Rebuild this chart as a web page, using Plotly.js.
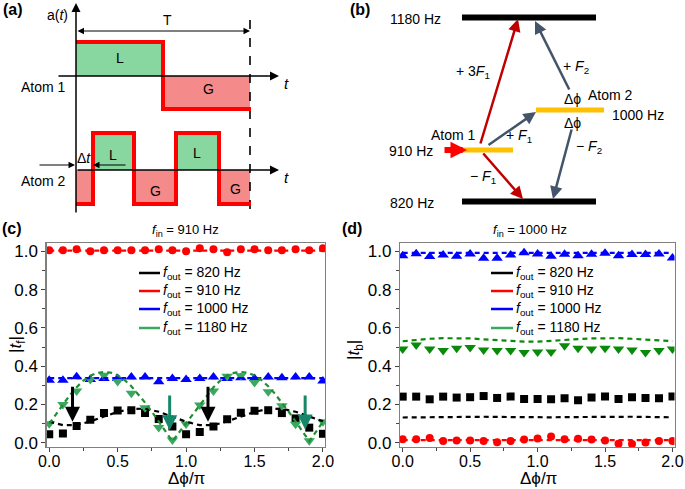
<!DOCTYPE html>
<html><head><meta charset="utf-8">
<script src="https://cdn.plot.ly/plotly-3.0.1.min.js"></script>
<style>html,body{margin:0;padding:0;background:#fff}#g{width:685px;height:489px}</style>
</head><body><div id="g"></div>
<script>
// ---------- data ----------
const phi = [0,0.1,0.2,0.3,0.4,0.5,0.6,0.7,0.8,0.9,1.0,1.1,1.2,1.3,1.4,1.5,1.6,1.7,1.8,1.9,2.0];
const phiFine = [0,0.05,0.1,0.15,0.2,0.25,0.3,0.35,0.4,0.45,0.5,0.55,0.6,0.65,0.7,0.75,0.8,0.85,0.9,0.95,1.0,1.05,1.1,1.15,1.2,1.25,1.3,1.35,1.4,1.45,1.5,1.55,1.6,1.65,1.7,1.75,1.8,1.85,1.9,1.95,2.0];

// panel (c): f_in = 910 Hz
const c820 = [0.045,0.049,0.087,0.120,0.155,0.169,0.170,0.155,0.124,0.085,0.045,0.056,0.085,0.123,0.157,0.167,0.170,0.155,0.127,0.079,0.047];
const c910 = [1.005,1.005,1.010,1.000,1.005,1.005,1.005,1.005,1.010,1.005,1.000,1.015,1.010,0.995,1.010,1.010,1.005,1.005,1.010,1.005,1.015];
const c1000 = [0.327,0.327,0.345,0.330,0.336,0.336,0.344,0.344,0.318,0.336,0.330,0.336,0.344,0.336,0.339,0.336,0.344,0.339,0.344,0.344,0.322];
const c1180 = [0.100,0.200,0.271,0.330,0.353,0.320,0.258,0.183,0.080,0.014,0.098,0.197,0.270,0.348,0.350,0.315,0.266,0.193,0.097,0.010,0.110];
const c820th = [0.110,0.092,0.092,0.112,0.137,0.161,0.177,0.178,0.162,0.137,0.110,0.092,0.092,0.112,0.137,0.161,0.177,0.178,0.162,0.137,0.112];
const c910th = [1.003,1.003,1.003,1.003,1.003,1.003,1.003,1.003,1.003,1.003,1.003,1.003,1.003,1.003,1.003,1.003,1.003,1.003,1.003,1.003,1.003];
const c1000th = [0.338,0.338,0.338,0.338,0.338,0.338,0.338,0.338,0.338,0.338,0.338,0.338,0.338,0.338,0.338,0.338,0.338,0.338,0.338,0.338,0.338];
const c1180th = [0.100,0.150,0.200,0.248,0.290,0.325,0.350,0.365,0.370,0.366,0.352,0.328,0.295,0.255,0.210,0.162,0.112,0.060,0.008,0.055,0.103,0.152,0.200,0.248,0.290,0.325,0.350,0.365,0.370,0.366,0.352,0.328,0.295,0.255,0.210,0.162,0.112,0.060,0.008,0.058,0.110];
// arrows in (c)
const arrX = [0.17, 0.88, 1.16, 1.87];
const arrTop = [0.300, 0.255, 0.300, 0.255];
const arrTip = [0.110, 0.066, 0.110, 0.070];
const arrCol = ['#000000', '#17876a', '#000000', '#17876a'];

// panel (d): f_in = 1000 Hz
const d820 = [0.241,0.241,0.227,0.241,0.236,0.238,0.244,0.234,0.241,0.229,0.229,0.227,0.232,0.222,0.236,0.241,0.229,0.238,0.234,0.232,0.241];
const d910 = [0.019,0.019,0.025,0.009,0.012,0.012,0.009,0.003,0.009,0.017,0.023,0.033,0.019,0.021,0.017,0.012,-0.005,-0.006,0.002,0.009,0.009];
const d1000 = [0.977,0.987,0.972,0.980,0.974,0.986,0.963,0.964,0.980,0.992,0.986,0.974,0.984,0.977,0.984,0.990,0.977,0.983,0.983,0.986,0.965];
const d1180 = [0.490,0.511,0.490,0.482,0.494,0.497,0.485,0.482,0.482,0.471,0.474,0.474,0.506,0.494,0.490,0.494,0.490,0.485,0.471,0.482,0.490];
const d820th = [0.132,0.133,0.134,0.135,0.136,0.136,0.136,0.135,0.134,0.133,0.133,0.133,0.134,0.135,0.136,0.137,0.137,0.136,0.135,0.134,0.133];
const d910th = [0.014,0.014,0.014,0.014,0.014,0.014,0.014,0.014,0.014,0.014,0.014,0.014,0.014,0.014,0.014,0.014,0.014,0.014,0.014,0.014,0.014];
const d1000th = [0.991,0.991,0.991,0.991,0.991,0.991,0.991,0.991,0.991,0.991,0.991,0.991,0.991,0.991,0.991,0.991,0.991,0.991,0.991,0.991,0.991];
const d1180th = [0.530,0.537,0.543,0.546,0.547,0.545,0.540,0.535,0.531,0.528,0.528,0.531,0.536,0.541,0.545,0.547,0.546,0.543,0.538,0.534,0.531];

const legendLabels = ['820 Hz','910 Hz','1000 Hz','1180 Hz'];
const legendColors = ['#000000','#ff0000','#0000ff','#3aa860'];

// ---------- helpers ----------
const W = 685, H = 489;
const FONT = 'Liberation Sans, Arial, sans-serif';
const px = x => x / W, py = y => 1 - y / H;
const shapes = [], ann = [];
function rect(x0,y0,x1,y1,fill){shapes.push({type:'rect',xref:'paper',yref:'paper',x0:px(x0),x1:px(x1),y0:py(y0),y1:py(y1),fillcolor:fill,line:{width:0},layer:'below'});}
function path(pts,color,w,dash){let d='';pts.forEach((p,i)=>{d+=(i?' L':'M')+px(p[0]).toFixed(5)+','+py(p[1]).toFixed(5);});shapes.push({type:'path',xref:'paper',yref:'paper',path:d,line:{color:color,width:w,dash:dash||'solid'}});}
function line(x0,y0,x1,y1,color,w,dash){shapes.push({type:'line',xref:'paper',yref:'paper',x0:px(x0),x1:px(x1),y0:py(y0),y1:py(y1),line:{color:color,width:w,dash:dash||'solid'}});}
function arrow(hx,hy,tx,ty,color,w,size,side){ann.push({xref:'paper',yref:'paper',x:px(hx),y:py(hy),ax:tx-hx,ay:ty-hy,axref:'pixel',ayref:'pixel',text:'',showarrow:true,arrowhead:2,arrowsize:size||1,arrowwidth:w,arrowcolor:color,arrowside:side||'end',standoff:0,startstandoff:0});}
function txt(x,y,t,size,o){ann.push(Object.assign({xref:'paper',yref:'paper',x:px(x),y:py(y),text:t,showarrow:false,xanchor:'center',yanchor:'middle',font:{family:FONT,size:size,color:'#000'}},o||{}));}

// ---------- panel (a) ----------
const GREEN='#88d6a0', PINK='#f58a8a';
rect(76,42,163,76,GREEN); rect(163,76,250,109,PINK);
rect(76,170,93,204,PINK); rect(93,133,134,170,GREEN); rect(134,170,176,204,PINK); rect(176,133,219,170,GREEN); rect(219,170,250,204,PINK);
line(250,20,250,214,'#000',1.6,'dash');
path([[76,42],[163,42],[163,109],[251,109]],'#ff0000',4);
path([[76,204],[93,204],[93,133],[134,133],[134,204],[176,204],[176,133],[219,133],[219,204],[251,204]],'#ff0000',4);
arrow(76,3,76,214,'#000',1.5,1.2);
arrow(279,76,57,76,'#000',1.5,1.2);
arrow(279,170,76,170,'#000',1.5,1.2);
arrow(250,31,76,31,'#000',1,1.3,'end+start');
arrow(75,165,38,165,'#000',1,1.3);
arrow(93,165,127,165,'#000',1,1.3);
txt(13,10,'<b>(a)</b>',16);
txt(57,15,'a(<i>t</i>)',14);
txt(167,20,'T',14);
txt(286,83,'<i>t</i>',15); txt(286,177,'<i>t</i>',15);
txt(43,87,'Atom 1',14); txt(43,181,'Atom 2',14);
txt(120,58,'L',14); txt(208,89,'G',14);
txt(84,158,'Δ<i>t</i>',14);
txt(113,155,'L',14); txt(155,191,'G',14); txt(197,153,'L',14); txt(235,189,'G',14);

// ---------- panel (b) ----------
rect(462,14.5,596,20.5,'#000'); rect(462,198.5,596,204.5,'#000');
rect(463,147.5,513,152.5,'#ffc000'); rect(536,107.5,604,112.5,'#ffc000');
arrow(467,150,443,150,'#ff0000',6,0.55);
arrow(518,19,480,145,'#c00000',2.5,1);
arrow(523,199,482,152,'#c00000',2.5,1);
arrow(536,112,487,146,'#44546a',2.5,1);
arrow(535,21,570,91,'#44546a',2.5,1);
arrow(553,199,572,128,'#44546a',2.5,1);
txt(360,10,'<b>(b)</b>',16);
txt(415,19,'1180 Hz',14); txt(412,203,'820 Hz',14); txt(411,151,'910 Hz',14); txt(638,115,'1000 Hz',14);
txt(453,135,'Atom 1',14); txt(610,95,'Atom 2',14);
txt(572,99,'Δϕ',14); txt(572,123,'Δϕ',14);
txt(473,72,'+ 3<i>F</i><sub>1</sub>',14); txt(519,136,'+ <i>F</i><sub>1</sub>',14); txt(483,177,'− <i>F</i><sub>1</sub>',14);
txt(576,67,'+ <i>F</i><sub>2</sub>',14); txt(589,147,'− <i>F</i><sub>2</sub>',14);

// ---------- panels (c),(d) labels, axis titles & legends ----------
txt(12,228,'<b>(c)</b>',16); txt(352,228,'<b>(d)</b>',16);
txt(185,230,'<i>f</i><sub>in</sub> = 910 Hz',13);
txt(530,230,'<i>f</i><sub>in</sub> = 1000 Hz',13);
txt(186,478,'Δϕ/π',17); txt(538,478,'Δϕ/π',17);
txt(17,345,'|<i>t</i><sub>f</sub>|',17,{textangle:-90});
txt(355,350,'|<i>t</i><sub>b</sub>|',17,{textangle:-90});
const legY = [273,291,309,328];
legendLabels.forEach((l,i)=>{
  line(139,legY[i],160,legY[i],legendColors[i],2.5);
  txt(161,legY[i],'<i>f</i><sub>out</sub> = '+l,14,{xanchor:'left'});
  line(491,legY[i],513,legY[i],legendColors[i],2.5);
  txt(514,legY[i],'<i>f</i><sub>out</sub> = '+l,14,{xanchor:'left'});
});
for(let i=0;i<arrX.length;i++){
  ann.push({xref:'x',yref:'y',axref:'x',ayref:'y',x:arrX[i],y:arrTip[i],ax:arrX[i],ay:arrTop[i],text:'',showarrow:true,arrowhead:2,arrowsize:1,arrowwidth:3,arrowcolor:arrCol[i],standoff:0});
}

// ---------- traces ----------
const dashL = '5px,4px';
function th(x,y,xa,ya,col){return {x:x,y:y,xaxis:xa,yaxis:ya,mode:'lines',line:{color:col,width:2.2,dash:dashL},hoverinfo:'skip'};}
function dt(x,y,xa,ya,col,sym,sz){return {x:x,y:y,xaxis:xa,yaxis:ya,mode:'markers',marker:{color:col,symbol:sym,size:sz,line:{width:0}},hoverinfo:'skip'};}
const traces = [
  dt(phi,c820,'x','y','#000','square',8),
  dt(phi,c910,'x','y','#ff0000','circle',8),
  dt(phi,c1000,'x','y','#0000ff','triangle-up',10),
  dt(phi,c1180,'x','y','#3aa860','triangle-down',10),
  th(phi,c820th,'x','y','#000'),
  th(phi,c910th,'x','y','#ff0000'),
  th(phi,c1000th,'x','y','#0000ff'),
  th(phiFine,c1180th,'x','y','#1f8f2f'),
  dt(phi,d820,'x2','y2','#000','square',8),
  dt(phi,d910,'x2','y2','#ff0000','circle',8),
  dt(phi,d1000,'x2','y2','#0000ff','triangle-up',10),
  dt(phi,d1180,'x2','y2','#0a8a0a','triangle-down',10),
  th(phi,d820th,'x2','y2','#000'),
  th(phi,d910th,'x2','y2','#ff0000'),
  th(phi,d1000th,'x2','y2','#0000ff'),
  th(phi,d1180th,'x2','y2','#0a8a0a')
];

const tickFont = {family:FONT,size:16,color:'#000'};
function xax(dom,anchor){return {domain:dom,anchor:anchor,range:[-0.02,2.015],tick0:0,dtick:0.5,tickformat:'.1f',ticks:'outside',ticklen:4,tickwidth:1,tickcolor:'#444',ticklabelstandoff:-4,minor:{dtick:0.25,ticks:'outside',ticklen:3,tickcolor:'#444'},showline:true,mirror:true,linecolor:'#7f7f7f',linewidth:1.2,showgrid:false,zeroline:false,tickfont:tickFont,fixedrange:true};}
function yax(dom,anchor){return {domain:dom,anchor:anchor,range:[-0.022,1.043],tick0:0,dtick:0.2,tickformat:'.1f',ticks:'outside',ticklen:4,tickwidth:1,tickcolor:'#444',minor:{dtick:0.1,ticks:'outside',ticklen:3,tickcolor:'#444'},showline:true,mirror:true,linecolor:'#7f7f7f',linewidth:1.2,showgrid:false,zeroline:false,tickfont:{family:FONT,size:17,color:'#000'},fixedrange:true};}

const yDom = [py(447), py(243)];
const layout = {
  width:W, height:H, autosize:false, showlegend:false,
  margin:{l:0,r:0,t:0,b:0}, paper_bgcolor:'#fff', plot_bgcolor:'#fff',
  xaxis: xax([px(46.5),px(325)],'y'),
  yaxis: yax(yDom,'x'),
  xaxis2: xax([px(400),px(674.5)],'y2'),
  yaxis2: yax(yDom,'x2'),
  shapes: shapes, annotations: ann
};
Plotly.newPlot('g', traces, layout, {displayModeBar:false, staticPlot:true});
</script></body></html>
